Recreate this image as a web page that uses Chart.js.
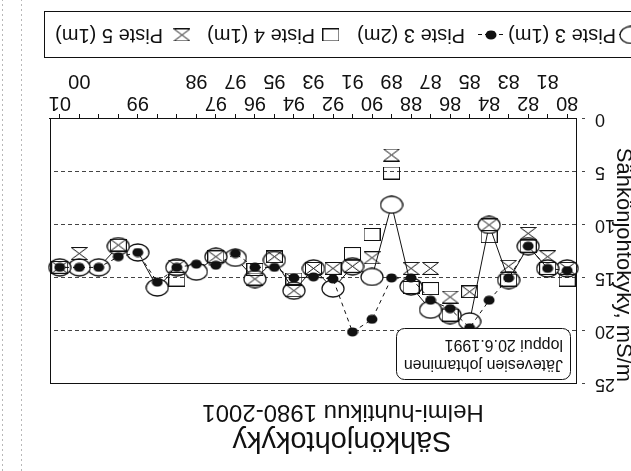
<!DOCTYPE html>
<html><head><meta charset="utf-8">
<script src="https://cdn.jsdelivr.net/npm/chart.js@4/dist/chart.umd.min.js"></script>
<style>
html,body{margin:0;padding:0;background:#fff;overflow:hidden}
#wrap{position:absolute;left:0;top:0;width:631px;height:471px;transform:rotate(180deg);transform-origin:50% 50%}
canvas{display:block}
</style></head><body>
<div id="wrap"><canvas id="c" width="631" height="471"></canvas></div>
<script>
// ---- data ----
const tickLabels = ['80','81','82','83','84','85','86','87','88','89','90','91','92','93','94','95','96','97','97','98','','','99','','','00','01'];
const piste3_1m = [14.1,14.1,12.0,15.2,10.0,19.1,18.5,18.0,15.8,8.1,14.9,13.9,16.0,14.1,16.2,13.3,15.1,13.1,13.0,14.4,14.0,15.9,12.6,12.0,14.0,14.0,14.0];
const piste3_2m = [14.3,14.1,12.0,15.0,17.1,19.7,17.9,17.1,15.0,15.0,18.9,20.1,15.1,14.9,15.0,14.0,14.0,12.7,13.8,13.7,14.0,15.4,12.6,13.0,14.0,14.0,14.0];
const piste4_1m = [15.2,14.1,12.0,15.2,11.1,16.3,18.5,16.0,15.9,5.1,10.9,12.7,14.1,14.1,15.1,13.0,14.2,null,13.0,null,15.2,null,null,11.9,null,null,14.0];
const piste5_1m = [14.1,13.0,10.8,13.9,10.0,16.3,16.8,14.1,14.1,3.4,13.1,13.9,14.1,14.1,16.2,13.0,15.1,null,13.0,null,13.9,null,null,11.9,null,12.7,14.0];
const seriesNames = ['Piste 3 (1m)','Piste 3 (2m)','Piste 4 (1m)','Piste 5 (1m)'];
const titleText = 'Sähkönjohtokyky';
const subtitleText = 'Helmi-huhtikuu 1980-2001';
const yTitleText = 'Sähkönjohtokyky, mS/m';
const noteLines = ['Jätevesien johtaminen','loppui 20.6.1991'];
const yMin = 0, yMax = 25, yStep = 5;

// ---- styles ----
const FONT = '"Liberation Sans", Arial, Helvetica, sans-serif';
const INK = '#111';

function mk(w,h,fn){const c=document.createElement('canvas');c.width=w;c.height=h;const g=c.getContext('2d');g.strokeStyle=INK;g.fillStyle=INK;g.lineWidth=1.3;fn(g,w,h);return c;}
const ellipseImg = mk(24,19,(g,w,h)=>{g.beginPath();g.ellipse(w/2,h/2,w/2-1,h/2-1,0,0,Math.PI*2);g.fillStyle='#fff';g.fill();g.stroke();});
const dotImg = mk(12,10,(g,w,h)=>{g.beginPath();g.ellipse(w/2,h/2,w/2-0.5,h/2-0.5,0,0,Math.PI*2);g.fill();});
const squareImg = mk(17,13,(g,w,h)=>{g.lineWidth=1;g.strokeRect(0.5,0.5,w-1,h-1);});
const hourImg = mk(17,13,(g,w,h)=>{g.lineWidth=1;g.beginPath();g.moveTo(0.5,0.5);g.lineTo(w-0.5,0.5);g.lineTo(0.5,h-0.5);g.lineTo(w-0.5,h-0.5);g.closePath();g.stroke();});

function rrect(ctx,x,y,w,h,r){ctx.beginPath();ctx.moveTo(x+r,y);ctx.arcTo(x+w,y,x+w,y+h,r);ctx.arcTo(x+w,y+h,x,y+h,r);ctx.arcTo(x,y+h,x,y,r);ctx.arcTo(x,y,x+w,y,r);ctx.closePath();}

const decor = {
  id:'decor',
  afterDatasetsDraw(chart){
    const {ctx, chartArea:a} = chart;
    ctx.save();
    ctx.strokeStyle = INK; ctx.lineWidth = 1;
    ctx.strokeRect(Math.round(a.left)+0.5, Math.round(a.top)+0.5, Math.round(a.right-a.left)-1, Math.round(a.bottom-a.top));
    // note box
    rrect(ctx,60.5,91.5,174,51,8);
    ctx.fillStyle='#fff'; ctx.fill(); ctx.stroke();
    ctx.fillStyle = INK; ctx.font = '16px '+FONT; ctx.textAlign='left'; ctx.textBaseline='middle';
    ctx.fillText(noteLines[0], 68, 107);
    ctx.fillText(noteLines[1], 68, 127);
    ctx.restore();
  },
  afterDraw(chart){
    const {ctx} = chart;
    ctx.save();
    ctx.fillStyle = INK; ctx.textAlign='center'; ctx.textBaseline='middle';
    ctx.font = '29px '+FONT; ctx.fillText(titleText, 289, 31);
    ctx.font = '24px '+FONT; ctx.fillText(subtitleText, 288, 59);
    // y title
    ctx.save(); ctx.translate(8, 206); ctx.rotate(-Math.PI/2);
    ctx.font = '22px '+FONT; ctx.fillText(yTitleText, 0, 0); ctx.restore();
    // legend
    ctx.strokeStyle = INK; ctx.lineWidth = 1;
    ctx.strokeRect(-5.5, 413.5, 592, 46);
    const ly = 436;
    ctx.font = '20px '+FONT; ctx.textAlign='left';
    ctx.beginPath(); ctx.moveTo(-12, ly+0.5); ctx.lineTo(12, ly+0.5); ctx.stroke();
    ctx.drawImage(ellipseImg, 0-12, ly-9.5);
    ctx.fillText(seriesNames[0], 15, ly);
    ctx.save(); ctx.setLineDash([4,3]); ctx.beginPath(); ctx.moveTo(128, ly+0.5); ctx.lineTo(153, ly+0.5); ctx.stroke(); ctx.restore();
    ctx.drawImage(dotImg, 140-6, ly-5);
    ctx.fillText(seriesNames[1], 166, ly);
    ctx.drawImage(squareImg, 300-8.5, ly-6.5);
    ctx.fillText(seriesNames[2], 316, ly);
    ctx.drawImage(hourImg, 449-8.5, ly-6.5);
    ctx.fillText(seriesNames[3], 468, ly);
    // scan edge lines
    ctx.strokeStyle = '#b8b8b8'; ctx.setLineDash([2,3]);
    ctx.beginPath(); ctx.moveTo(609.5,0); ctx.lineTo(609.5,471); ctx.moveTo(628.5,0); ctx.lineTo(628.5,471); ctx.stroke();
    ctx.restore();
  }
};

new Chart(document.getElementById('c'), {
  type:'line',
  data:{
    labels: tickLabels,
    datasets:[
      {label:seriesNames[0], data:piste3_1m, borderColor:INK, borderWidth:1, pointStyle:ellipseImg, pointRadius:6, showLine:true, tension:0, fill:false, order:4},
      {label:seriesNames[1], data:piste3_2m, borderColor:INK, borderWidth:1, borderDash:[4,4], pointStyle:dotImg, pointRadius:5, showLine:true, tension:0, fill:false, order:3},
      {label:seriesNames[2], data:piste4_1m, borderColor:INK, pointStyle:squareImg, pointRadius:6, showLine:false, order:2},
      {label:seriesNames[3], data:piste5_1m, borderColor:INK, pointStyle:hourImg, pointRadius:6, showLine:false, order:1}
    ]
  },
  options:{
    responsive:false, animation:false, devicePixelRatio:1, events:[],
    layout:{padding:{top:87,right:50,bottom:0,left:0}},
    plugins:{legend:{display:false}, tooltip:{enabled:false}, title:{display:false}},
    scales:{
      x:{
        offset:true,
        grid:{drawOnChartArea:false, drawTicks:true, tickLength:5, color:INK, tickColor:INK},
        border:{display:true, color:INK},
        ticks:{autoSkip:false, maxRotation:0, minRotation:0, padding:0, color:INK,
          font:{family:FONT, size:20, lineHeight:1.1},
          callback:(v,i)=> (i%2===0 ? [tickLabels[i], ''] : ['', tickLabels[i]])},
        afterFit:(s)=>{s.height=119;}
      },
      y:{
        min:yMin, max:yMax,
        ticks:{stepSize:yStep, padding:10, color:INK, font:{family:FONT, size:18}},
        grid:{color:'#444', lineWidth:1, tickLength:8, tickColor:'#444', tickBorderDash:[3,100]},
        border:{display:true, color:INK, dash:[4,3]},
        afterFit:(s)=>{s.width=54;}
      }
    }
  },
  plugins:[decor]
});
</script>
</body></html>
